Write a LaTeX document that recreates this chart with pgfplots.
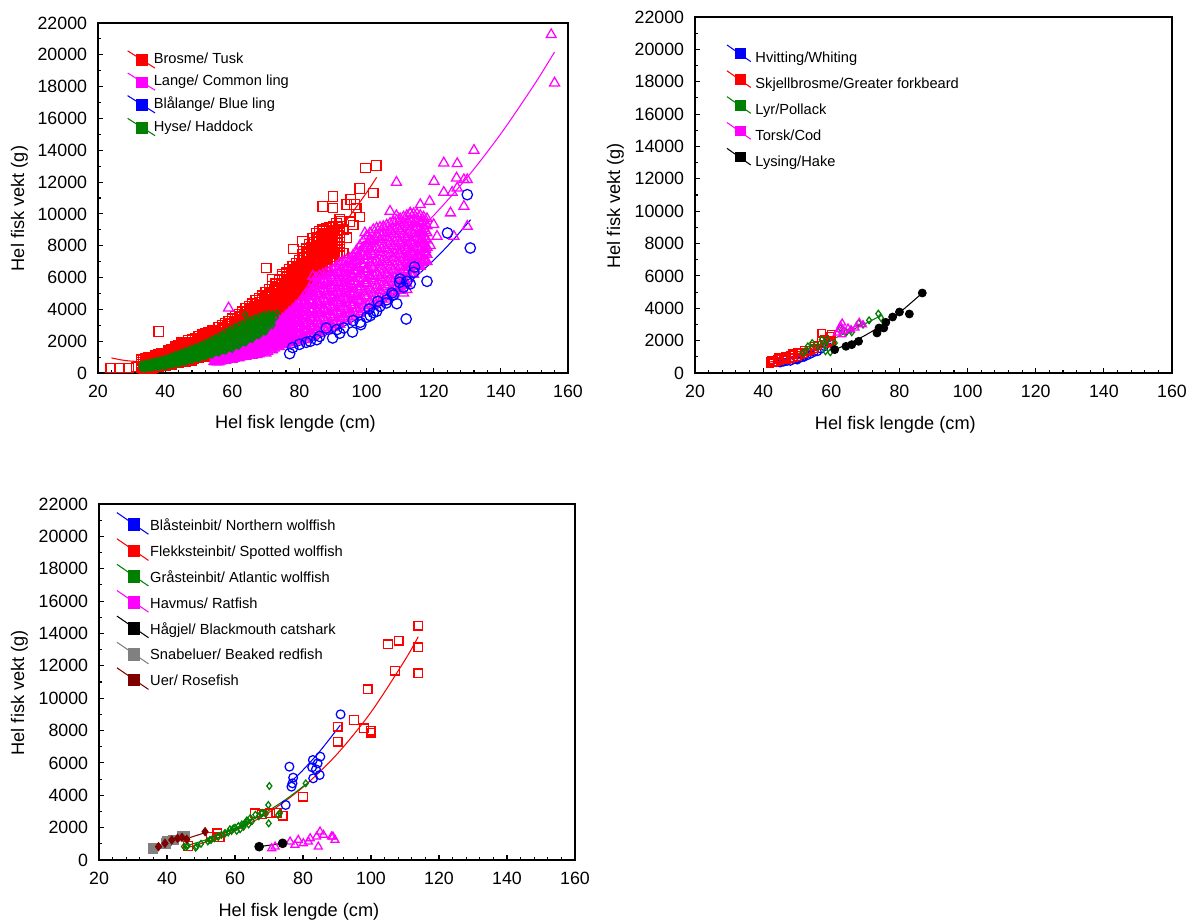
\documentclass[border=0pt]{standalone}
\usepackage{pgfplots}
\usepackage{pgfplotstable}
\pgfplotsset{compat=1.18}
\usepackage{fontspec}
\setmainfont{Liberation Sans}
\definecolor{dkgreen}{RGB}{0,128,0}
\definecolor{dkred}{RGB}{128,0,0}
\definecolor{midgray}{RGB}{128,128,128}
\definecolor{mag}{RGB}{255,0,255}
\definecolor{pblue}{RGB}{0,0,255}
\definecolor{pred}{RGB}{255,0,0}

% dense clouds of panel 1: one row per length, several weights per row
\pgfplotstableread{
L a b c d e f
33 310 430 550 670 790 850
34 250 380 510 640 770 900
35 320 460 600 740 880 950
36 300 440 580 720 860 1000
37 430 580 730 880 1030 1100
38 400 550 700 850 1000 1150
39 480 640 800 960 1120 1200
40 450 610 770 930 1090 1250
41 590 770 950 1130 1310 1400
42 550 740 930 1120 1310 1500
43 710 920 1130 1340 1550 1650
44 650 870 1090 1310 1530 1750
45 780 1030 1280 1530 1780 1900
46 700 950 1200 1450 1700 1950
47 880 1140 1400 1660 1920 2050
48 800 1060 1320 1580 1840 2100
49 990 1260 1530 1800 2070 2200
50 950 1220 1490 1760 2030 2300
51 1140 1420 1700 1980 2260 2400
52 1050 1340 1630 1920 2210 2500
53 1250 1540 1830 2120 2410 2550
54 1200 1490 1780 2070 2360 2650
55 1400 1690 1980 2270 2560 2700
56 1350 1650 1950 2250 2550 2850
57 1560 1880 2200 2520 2840 3000
58 1500 1820 2140 2460 2780 3100
59 1770 2100 2430 2760 3090 3250
60 1700 2040 2380 2720 3060 3400
61 1980 2330 2680 3030 3380 3550
62 1950 2300 2650 3000 3350 3700
63 2230 2590 2950 3310 3670 3850
64 2200 2570 2940 3310 3680 4050
65 2490 2870 3250 3630 4010 4200
66 2400 2790 3180 3570 3960 4350
67 2660 3080 3500 3920 4340 4550
68 2550 2980 3410 3840 4270 4700
69 2830 3280 3730 4180 4630 4850
70 2700 3170 3640 4110 4580 5050
71 3090 3570 4050 4530 5010 5250
72 3050 3530 4010 4490 4970 5450
73 3440 3920 4400 4880 5360 5600
74 3400 3890 4380 4870 5360 5850
75 3810 4320 4830 5340 5850 6100
76 3750 4260 4770 5280 5790 6300
77 4210 4720 5230 5740 6250 6500
78 4200 4700 5200 5700 6200 6700
79 4650 5150 5650 6150 6650 6900
80 4600 5100 5600 6100 6600 7100
81 5160 5670 6180 6690 7200 7450
82 5150 5680 6210 6740 7270 7800
83 5720 6250 6780 7310 7840 8100
84 5750 6290 6830 7370 7910 8450
85 6370 6910 7450 7990 8530 8800
86 6300 6820 7340 7860 8380 8900
87 6750 7250 7750 8250 8750 9000
88 6700 7180 7660 8140 8620 9100
89 7130 7580 8030 8480 8930 9150
90 7100 7520 7940 8360 8780 9200
91 7510 7930 8350 8770 9190 9400
92 7550 7970 8390 8810 9230 9650
}\tusk

\pgfplotstableread{
L a b c d e
33.5 280 405 530 655 780
34.5 285 420 555 690 825
35.5 310 450 590 730 870
36.5 360 505 650 795 940
37.5 410 560 710 860 1010
38.5 440 595 750 900 1055
39.5 465 625 785 945 1105
40.5 515 685 855 1025 1195
41.5 570 755 940 1125 1310
42.5 625 825 1025 1225 1425
43.5 680 895 1110 1325 1540
44.5 710 945 1180 1415 1650
45.5 740 990 1240 1490 1740
46.5 790 1045 1300 1555 1810
47.5 840 1100 1360 1620 1880
48.5 890 1155 1420 1685 1950
49.5 970 1240 1510 1780 2050
50.5 1045 1320 1595 1870 2145
51.5 1095 1380 1665 1950 2235
52.5 1150 1440 1730 2020 2310
53.5 1225 1515 1805 2095 2385
54.5 1300 1590 1880 2170 2460
55.5 1375 1670 1965 2260 2555
56.5 1450 1760 2070 2380 2690
57.5 1530 1850 2170 2490 2810
58.5 1630 1955 2280 2605 2930
59.5 1735 2070 2405 2740 3075
60.5 1835 2180 2525 2870 3215
61.5 1960 2310 2660 3010 3360
62.5 2090 2445 2800 3155 3510
63.5 2215 2580 2945 3310 3675
64.5 2345 2720 3095 3470 3845
65.5 2445 2830 3215 3600 3985
66.5 2525 2930 3335 3740 4145
67.5 2605 3030 3455 3880 4305
68.5 2685 3125 3565 4005 4445
69.5 2765 3225 3685 4145 4605
70.5 2895 3370 3845 4320 4795
71.5 3070 3550 4030 4510 4990
72.5 3245 3725 4205 4685 5165
73.5 3420 3905 4390 4875 5360
74.5 3600 4100 4600 5100 5600
75.5 3780 4290 4800 5310 5820
76.5 3980 4490 5000 5510 6020
77.5 4200 4705 5210 5715 6220
78.5 4425 4925 5425 5925 6425
79.5 4625 5125 5625 6125 6625
80.5 4875 5380 5885 6390 6895
81.5 5155 5675 6195 6715 7235
82.5 5435 5965 6495 7025 7555
83.5 5735 6270 6805 7340 7875
84.5 6060 6600 7140 7680 8220
85.5 6335 6865 7395 7925 8455
86.5 6530 7040 7550 8060 8570
87.5 6720 7210 7700 8190 8680
88.5 6915 7380 7845 8310 8775
89.5 7110 7545 7980 8415 8850
90.5 7305 7725 8145 8565 8985
91.5 7530 7950 8370 8790 9210
}\tuskhalf

\pgfplotstableread{
L a b c d e f g
55 700 800 900 1000 1100 1200 1250
56 700 800 900 1000 1100 1200 1300
57 800 910 1020 1130 1240 1340 1400
58 800 920 1030 1150 1270 1380 1500
59 920 1050 1180 1320 1450 1580 1650
60 850 1000 1150 1300 1450 1600 1750
61 980 1140 1300 1450 1610 1770 1850
62 950 1120 1280 1450 1620 1780 1950
63 1090 1260 1440 1610 1790 1960 2050
64 1050 1230 1420 1600 1780 1970 2150
65 1150 1360 1570 1780 1990 2200 2300
66 1100 1320 1530 1750 1970 2180 2400
67 1260 1490 1710 1940 2160 2390 2500
68 1200 1430 1670 1900 2130 2370 2600
69 1370 1610 1850 2100 2340 2580 2700
70 1250 1500 1750 2000 2250 2500 2750
71 1480 1740 2000 2250 2510 2770 2900
72 1450 1710 1970 2230 2480 2740 3000
73 1680 1940 2200 2450 2710 2970 3100
74 1650 1920 2180 2450 2720 2980 3250
75 1890 2160 2440 2710 2990 3260 3400
76 1800 2100 2400 2700 3000 3300 3600
77 2010 2340 2660 2990 3310 3640 3800
78 1900 2250 2600 2950 3300 3650 4000
79 2140 2510 2890 3260 3640 4010 4200
80 2000 2400 2800 3200 3600 4000 4400
81 2270 2710 3160 3600 4040 4480 4700
82 2100 2580 3070 3550 4030 4520 5000
83 2460 2980 3490 4010 4530 5040 5300
84 2300 2870 3430 4000 4570 5130 5700
85 2700 3300 3900 4500 5100 5700 6000
86 2500 3100 3700 4300 4900 5500 6100
87 2850 3460 4070 4680 5290 5900 6200
88 2650 3260 3870 4480 5080 5690 6300
89 3050 3660 4270 4880 5490 6100 6400
90 2850 3460 4070 4680 5280 5890 6500
91 3260 3890 4510 5140 5760 6390 6700
92 3050 3690 4330 4980 5620 6260 6900
93 3530 4180 4830 5480 6130 6780 7000
94 3300 3970 4630 5300 5970 6630 7100
95 3740 4430 5110 5790 6480 7000 7200
96 3550 4280 5000 5730 6450 7000 7400
97 4040 4810 5590 6360 7000 7500 7700
98 3750 4580 5400 6230 7050 7600 8000
99 4270 5110 5950 6800 7400 7900 8300
100 4000 4830 5670 6500 7330 8000 8600
101 4510 5330 6140 6960 7780 8400 8800
102 4200 5010 5820 6630 7430 8240 9000
103 4700 5500 6300 7100 7900 8700 9100
104 4400 5190 5980 6780 7570 8360 9150
105 4890 5680 6460 7240 8030 8810 9200
106 4650 5430 6200 6980 7750 8530 9300
107 5180 5950 6720 7480 8250 9020 9400
108 4950 5710 6470 7230 7980 8740 9500
109 5480 6230 6980 7730 8480 9230 9600
110 5200 5950 6700 7450 8200 8950 9700
111 5770 6500 7230 7970 8700 9430 9800
112 5600 6320 7030 7750 8470 9180 9900
113 6240 6930 7610 8290 8980 9660 10000
114 6200 6830 7470 8100 8730 9370 10000
115 6790 7380 7960 8540 9130 9710 10000
116 6700 7230 7770 8300 8830 9370 9900
117 7140 7620 8110 8590 9070 9560 9800
118 7000 7450 7900 8350 8800 9250 9700
}\ling

\pgfplotstableread{
L a b c d e f
55.5 700 800 900 1000 1100 1200
56.5 750 855 960 1060 1165 1270
57.5 805 915 1030 1140 1250 1360
58.5 855 980 1105 1230 1355 1480
59.5 885 1030 1170 1310 1450 1595
60.5 915 1070 1220 1380 1530 1685
61.5 965 1130 1290 1450 1610 1775
62.5 1020 1190 1360 1530 1700 1870
63.5 1070 1250 1430 1610 1790 1965
64.5 1100 1295 1490 1690 1885 2080
65.5 1130 1340 1550 1760 1980 2190
66.5 1180 1400 1620 1840 2065 2285
67.5 1230 1460 1690 1920 2150 2380
68.5 1285 1520 1760 2000 2235 2475
69.5 1310 1560 1800 2050 2295 2540
70.5 1365 1620 1870 2130 2380 2635
71.5 1465 1720 1980 2240 2500 2755
72.5 1565 1820 2080 2340 2600 2855
73.5 1665 1930 2190 2450 2710 2975
74.5 1770 2040 2310 2580 2850 3120
75.5 1845 2135 2420 2710 2995 3280
76.5 1905 2215 2530 2840 3150 3465
77.5 1960 2295 2635 2970 3310 3645
78.5 2015 2380 2740 3100 3465 3825
79.5 2070 2460 2845 3235 3620 4010
80.5 2130 2550 2975 3395 3815 4235
81.5 2190 2655 3115 3575 4040 4500
82.5 2275 2775 3275 3775 4275 4775
83.5 2385 2925 3470 4010 4550 5095
84.5 2495 3080 3660 4245 4830 5410
85.5 2600 3200 3800 4400 5000 5600
86.5 2675 3280 3885 4490 5095 5700
87.5 2750 3360 3970 4580 5190 5800
88.5 2850 3460 4070 4680 5285 5895
89.5 2950 3560 4170 4780 5385 5995
90.5 3055 3670 4290 4905 5520 6140
91.5 3160 3790 4425 5060 5690 6325
92.5 3285 3920 4560 5200 5835 6470
93.5 3410 4040 4675 5310 5940 6575
94.5 3510 4140 4775 5410 6040 6675
95.5 3635 4270 4910 5550 6185 6820
96.5 3765 4420 5080 5740 6400 7055
97.5 3875 4565 5255 5950 6640 7335
98.5 3980 4705 5430 6155 6880 7605
99.5 4115 4870 5620 6375 7130 7885
100.5 4245 5020 5795 6570 7345 8120
101.5 4350 5140 5930 6725 7515 8310
102.5 4450 5250 6050 6850 7650 8450
103.5 4550 5345 6140 6940 7735 8530
104.5 4645 5435 6220 7010 7795 8585
105.5 4770 5550 6330 7105 7885 8665
106.5 4920 5690 6460 7230 8000 8770
107.5 5065 5830 6590 7350 8115 8875
108.5 5215 5970 6720 7475 8230 8985
109.5 5340 6090 6840 7590 8340 9090
110.5 5485 6230 6970 7710 8455 9195
111.5 5680 6405 7130 7860 8585 9310
112.5 5925 6625 7325 8025 8725 9425
113.5 6215 6875 7530 8190 8845 9505
114.5 6500 7110 7720 8325 8935 9540
115.5 6740 7300 7855 8415 8975 9530
116.5 6925 7435 7945 8450 8960 9465
117.5 7065 7530 8000 8465 8935 9400
}\linghalf

\pgfplotstableread{
L a b c d e
33 290 360 440 510 550
34 270 350 440 520 600
35 340 430 510 600 640
36 320 410 500 600 690
37 400 500 600 690 740
38 370 480 580 690 790
39 460 570 680 790 850
40 420 540 660 780 900
41 530 660 790 920 980
42 500 640 780 920 1060
43 620 770 920 1070 1140
44 580 740 900 1060 1220
45 710 880 1050 1220 1300
46 680 860 1030 1210 1380
47 830 1010 1190 1370 1460
48 800 990 1170 1360 1540
49 950 1140 1330 1520 1620
50 900 1100 1300 1500 1700
51 1070 1280 1490 1700 1800
52 1020 1240 1460 1680 1900
53 1200 1430 1660 1890 2000
54 1140 1380 1620 1860 2100
55 1330 1580 1830 2080 2200
56 1260 1530 1790 2060 2320
57 1460 1740 2020 2300 2440
58 1380 1680 1970 2270 2560
59 1600 1910 2220 2530 2680
60 1500 1830 2150 2480 2800
61 1760 2090 2410 2740 2900
62 1700 2030 2350 2680 3000
63 1960 2290 2610 2940 3100
64 1900 2230 2550 2880 3200
65 2160 2490 2810 3140 3300
66 2120 2440 2750 3070 3380
67 2390 2700 3000 3310 3460
68 2360 2660 2950 3250 3540
69 2620 2910 3190 3480 3620
70 2600 2880 3150 3430 3700
71 2900 3100 3300 3500 3700
72 3000 3200 3400 3550 3700
}\haddock

\pgfplotstableread{
L a b c d
33.5 280 360 435 515
34.5 305 390 475 555
35.5 330 420 510 600
36.5 360 455 550 645
37.5 385 485 585 690
38.5 410 520 630 740
39.5 440 555 670 790
40.5 470 595 720 845
41.5 515 650 785 920
42.5 555 700 845 990
43.5 600 755 910 1065
44.5 640 805 970 1135
45.5 695 865 1040 1210
46.5 755 930 1110 1290
47.5 815 1000 1180 1360
48.5 870 1060 1250 1440
49.5 925 1120 1315 1510
50.5 980 1185 1390 1595
51.5 1045 1260 1475 1690
52.5 1105 1330 1555 1780
53.5 1170 1405 1640 1875
54.5 1230 1475 1720 1965
55.5 1295 1550 1810 2065
56.5 1360 1630 1900 2175
57.5 1420 1710 1995 2285
58.5 1485 1790 2090 2390
59.5 1550 1865 2185 2500
60.5 1630 1955 2280 2605
61.5 1730 2055 2380 2705
62.5 1830 2155 2480 2805
63.5 1930 2255 2580 2905
64.5 2030 2355 2680 3005
65.5 2140 2460 2780 3100
66.5 2255 2565 2875 3185
67.5 2375 2675 2975 3275
68.5 2490 2780 3070 3360
69.5 2610 2890 3170 3450
}\haddockhalf

\pgfplotsset{
  fish/.style={
    scale only axis, xmin=20, xmax=160, ymin=0, ymax=22000,
    xtick={20,40,...,160}, ytick={0,2000,...,22000},
    minor x tick num=4, minor y tick num=1,
    tick align=inside, xtick pos=left, ytick pos=left,
    major tick length=0.09cm, minor tick length=0.05cm,
    every tick/.style={black, line width=0.5pt},
    axis line style={line width=0.6pt},
    scaled y ticks=false,
    /pgf/number format/1000 sep={},
    /pgf/number format/assume math mode=true,
    tick label style={font=\fontsize{8.5}{10}\selectfont},
    xticklabel style={yshift=-0.08cm},
    yticklabel style={xshift=-0.06cm},
    xlabel={Hel fisk lengde (cm)}, ylabel={Hel fisk vekt (g)},
    label style={font=\fontsize{8.7}{10}\selectfont},
    xlabel style={at={(axis description cs:0.42,-0.146)}, anchor=center},
    ylabel style={at={(axis description cs:-0.167,0.47)}, anchor=center},
    legend cell align=left,
    legend style={draw=none, fill=none, inner sep=0pt, anchor=north west,
      row sep=0pt, font=\fontsize{7}{8}\selectfont},
  },
  sq/.style={only marks, mark=square, mark size=#1, mark options={line width=0.6pt}, forget plot},
  tri/.style={only marks, mark=triangle, mark size=#1, mark options={line width=0.6pt}, forget plot},
  circ/.style={only marks, mark=o, mark size=#1, mark options={line width=0.6pt}, forget plot},
  dia/.style={only marks, mark=diamond, mark size=#1, mark options={line width=0.6pt}, forget plot},
  fit/.style={no marks, smooth, line width=0.5pt, forget plot},
}

\begin{document}
\begin{tikzpicture}
\useasboundingbox (0,0) rectangle (20cm,15.479cm);

% ---------------- panel 1 ----------------
\begin{axis}[fish, at={(1.647cm,9.210cm)}, anchor=south west,
  width=7.899cm, height=5.882cm,
  legend style={at={(axis cs:28.55,20410)},
    /tikz/every odd column/.append style={column sep=-0.1cm}},
  legend image code/.code={
    \draw[#1, line width=0.5pt] (0cm,0.15cm) -- (0.46cm,-0.14cm);
    \fill[#1] (0.155cm,-0.098cm) rectangle (0.335cm,0.082cm);}]

\foreach \c in {a,b,c,d,e,f}{
  \addplot[pred, sq=2.3pt] table[x=L, y=\c] {\tusk};
}
\foreach \c in {a,b,c,d,e}{
  \addplot[pred, sq=2.3pt] table[x=L, y=\c] {\tuskhalf};
}
\addplot[pred, sq=2.3pt] coordinates {
(23.8,314) (26.4,314) (29.2,314) (31.5,380) (38.1,2619) (70.1,6600) (72,5866)
(74.9,6181) (78.2,7794) (80.9,8276) (87,5657) (87,10476) (90,10370)
(90,11104) (91.9,9009) (92.5,9533) (93,7542) (93,9000) (94,8500) (94.1,10580)
(95,9500) (95.3,10895) (96,9300) (96.4,10580) (96.9,10370) (98,9805) (98,11586)
(99.7,12885) (102,11314) (102.9,13053)
};

\foreach \c in {a,b,c,d,e,f,g}{
  \addplot[mag, tri=2.75pt] table[x=L, y=\c] {\ling};
}
\foreach \c in {a,b,c,d,e,f}{
  \addplot[mag, tri=2.75pt] table[x=L, y=\c] {\linghalf};
}
\addplot[mag, tri=2.75pt] coordinates {
(54.6,733) (58.9,4085) (67.3,1152) (84,5238) (84,6076) (99.5,8800) (100.8,8380)
(105,9156) (107,10161) (108.9,9889) (108.9,11984) (111,5028) (112,5238) (113,10057)
(116,10580) (116.5,7123) (117.6,7752) (118.8,10790) (119,8000) (120,9323)
(120.1,12047) (121,8590) (123,11356) (123,13199) (125,10057) (125.5,11356)
(126,8590) (126.8,12256) (127,11628) (127,13157) (129,10476) (129,12151) (130,9219)
(130,12151) (132,13995) (155,21265) (156,18227)
};

\addplot[pblue, circ=2.5pt] coordinates {
(77.1,1215) (78,1600) (80,1800) (82,1927) (83.2,1990) (85.2,2095) (86,2300)
(88,2829) (89.9,2200) (91.1,2724) (92,2500) (93.2,2829) (95.8,2577) (96,3300)
(98.1,3185) (98.3,3038) (100,3500) (100.8,4023) (101.1,3604) (102,3800) (103,3876)
(103.4,4505) (104,4200) (105.9,4400) (106,4600) (107.6,5028) (108,4900) (109,4358)
(109.8,5700) (110,5908) (111,5400) (111.8,3394) (112,5762) (113,5600) (114,6327)
(114.3,6663) (118,5762) (124.1,8800) (130,11209) (130.9,7857)
};

\foreach \c in {a,b,c,d,e}{
  \addplot[dkgreen, dia=1.5pt] table[x=L, y=\c] {\haddock};
}
\foreach \c in {a,b,c,d}{
  \addplot[dkgreen, dia=1.5pt] table[x=L, y=\c] {\haddockhalf};
}
\addplot[dkgreen, dia=1.5pt] coordinates {(63.9,3666) (73,3500) (73.4,3771)};

\addplot[pred, fit] coordinates {(24,950) (27,820) (31,730) (35,770) (40,910) (45,1170)
 (50,1540) (55,2020) (60,2610) (65,3310) (70,4120) (75,5050) (80,6090) (85,7240)
 (90,8500) (95,9870) (100,11340) (103,12300)};
\addplot[mag, fit] coordinates {(54,1145) (60,1513) (70,2298) (80,3302) (90,4544)
 (100,6043) (110,7824) (120,9905) (130,12299) (140,15039) (150,18140) (156,20178)};
\addplot[pblue, fit] coordinates {(77,1508) (85,2129) (90,2599) (95,3138) (100,3755)
 (105,4452) (110,5236) (115,6117) (120,7094) (125,8180) (131,9637)};
\addplot[dkgreen, fit] coordinates {(33,330) (40,584) (45,832) (50,1141) (55,1519)
 (60,1972) (65,2507) (70,3131) (74,3700)};

\addlegendimage{pred}\addlegendentry{Brosme/ Tusk}
\addlegendimage{mag}\addlegendentry{Lange/ Common ling}
\addlegendimage{pblue}\addlegendentry{Blålange/ Blue ling}
\addlegendimage{dkgreen}\addlegendentry{Hyse/ Haddock}
\end{axis}

% ---------------- panel 2 ----------------
\begin{axis}[fish, at={(11.681cm,9.210cm)}, anchor=south west,
  width=8.017cm, height=5.983cm,
  legend style={at={(axis cs:29.1,20331)}},
  legend image code/.code={
    \draw[#1, line width=0.5pt] (0cm,0.24cm) -- (0.40cm,-0.04cm);
    \fill[#1] (0.144cm,0.017cm) rectangle (0.304cm,0.177cm);}]

\addplot[pblue, circ=1.7pt] coordinates {
(44,620) (45,600) (46,650) (47,700) (48,700) (49,800) (50,780) (50,850) (51,900)
(52,950) (52,1000) (53,1050) (54,1150) (55,1250) (56,1300) (57,1450) (58,1600) (60,1800)
};
\addplot[pred, sq=1.75pt] coordinates {
(42,600) (42,720) (42.5,800) (43,650) (43,800) (44,700) (44,850) (44.5,950) (45,750)
(45,900) (46,800) (46,950) (46.5,1050) (47,850) (47,1000) (48,900) (48,1100)
(48.5,1200) (49,950) (49,1150) (50,1000) (50,1300) (51,1100) (51,1250) (52,1200)
(52,1400) (53,1300) (54,1400) (55,1500) (55,1650) (56,1700) (57,2000) (57.2,2472)
(58,1800) (58,2100) (59.5,2000) (59.6,2266) (60,1900) (60,2400)
};
\addplot[dkgreen, dia=1.6pt] coordinates {
(51.7,1236) (52.5,1400) (53.1,1648) (54.4,1854) (56.1,1648) (57.2,2060) (58.1,1751)
(58.3,1339) (58.8,2060) (59.7,1277) (61,1854) (62.7,2781) (64.4,2513) (65.8,2678)
(66,2513) (68,3090) (69.3,2987) (71.1,3254) (73.8,3666) (74.6,3399)
};
\addplot[mag, tri=1.9pt] coordinates {
(61.6,2472) (62.3,2678) (62.7,2925) (63.2,3090) (63.2,2369) (63.8,2575) (64.9,2781)
(65.8,2678) (67.1,2781) (68.2,3131) (69.3,2987)
};
\addplot[black, only marks, mark=*, mark size=1.9pt, forget plot] coordinates {
(61,1442) (64.3,1648) (66,1751) (68,1957) (73.4,2472) (74,2781) (75.4,2781) (76,3131)
(78,3460) (80,3769) (82.9,3646) (86.7,4943)
};

\addplot[pblue, fit] coordinates {(43,650) (46,803) (50,1044) (54,1329) (57,1575) (60,1850)};
\addplot[pred, fit] coordinates {(42,680) (46,860) (50,1120) (54,1420) (58,1800) (60,2000)};
\addplot[dkgreen, fit] coordinates {(49,1100) (55,1600) (60,2050) (65,2550) (70,3050) (75,3600)};
\addplot[mag, fit] coordinates {(62,2500) (66,2780) (70,3100)};
\addplot[black, fit] coordinates {(61,1442) (65,1801) (70,2334) (75,2972) (80,3726) (86.7,4943)};

\addlegendimage{pblue}\addlegendentry{Hvitting/Whiting}
\addlegendimage{pred}\addlegendentry{Skjellbrosme/Greater forkbeard}
\addlegendimage{dkgreen}\addlegendentry{Lyr/Pollack}
\addlegendimage{mag}\addlegendentry{Torsk/Cod}
\addlegendimage{black}\addlegendentry{Lysing/Hake}
\end{axis}

% ---------------- panel 3 ----------------
\begin{axis}[fish, at={(1.664cm,1.025cm)}, anchor=south west,
  width=8.0cm, height=5.983cm,
  legend style={at={(axis cs:25.0,21524)},
    /tikz/every odd column/.append style={column sep=-0.05cm}},
  legend image code/.code={
    \draw[#1, line width=0.5pt] (0cm,0.235cm) -- (0.53cm,-0.128cm);
    \fill[#1] (0.186cm,-0.068cm) rectangle (0.386cm,0.132cm);}]

\addplot[pblue, circ=2.1pt] coordinates {
(74.9,3399) (76,5768) (76.6,4532) (76.9,4738) (77.1,5088) (82.7,5727) (82.9,6180)
(83,5047) (83.8,5603) (84.3,5974) (84.9,5253) (85.1,6386) (91.05,9002)
};
\addplot[pred, sq=2.1pt] coordinates {
(46.2,865) (52.8,1442) (54.8,1648) (55.5,1400) (65.9,2884) (67.8,2822) (70.3,2884)
(72.2,2925) (74,2740) (80,3914) (90.2,7313) (90.2,8240) (95,8652) (97.9,8137)
(99,10547) (99.9,7993) (100.1,7869) (105,13328) (107,11700) (108.1,13555)
(113.9,11536) (113.9,13142) (113.9,14481)
};
\addplot[dkgreen, dia=1.6pt] coordinates {
(45,830) (45.8,824) (46,900) (48.4,762) (48.7,824) (50,1000) (52,1150) (52.6,1236)
(53,1250) (54,1350) (55,1450) (55.1,1442) (56,1550) (57,1650) (57.1,1648) (58,1700)
(58.5,1900) (59,1800) (59.5,1950) (60,2000) (60.5,1800) (61,2100) (61.5,1900)
(62,2200) (62.4,2163) (62.5,2050) (63,2300) (63.4,2367) (63.5,2450) (64,2200)
(64.5,2600) (65,2400) (66,2800) (67,2700) (67.8,2886) (68,2900) (69,2850)
(69.8,3399) (69.9,2266) (70.1,4573) (72.7,2781) (73.2,2904) (80.8,4738)
};
\addplot[mag, tri=2.2pt] coordinates {
(70.8,721) (71.8,824) (76.2,1133) (77.6,927) (78.6,1236) (80.1,1030) (81.6,1133)
(82.1,1339) (84,1442) (84.5,824) (85,1751) (86,1545) (88.4,1442) (88.8,1442)
(89.4,1236)
};
\addplot[black, only marks, mark=*, mark size=2.1pt, forget plot] coordinates {
(67.1,824) (74,1030)
};
\addplot[midgray, only marks, mark=square*, mark size=2.2pt, forget plot] coordinates {
(35.8,721) (39.6,1030) (39.9,1195) (41.9,1258) (44.5,1483) (45.1,1483)
};
\addplot[dkred, only marks, mark=diamond*, mark size=2pt, forget plot] coordinates {
(37.5,824) (39.4,1030) (41.4,1236) (43.1,1339) (44.4,1400) (45.8,1277) (51.2,1751)
};

\addplot[pblue, fit] coordinates {(75.5,4635) (80,5562) (85,6733) (91,8343)};
\addplot[pred, fit] coordinates {(45.7,762) (50,1013) (60,1807) (70,2947) (80,4502)
 (90,6541) (100,9136) (110,12362) (113.9,13802)};
\addplot[dkgreen, fit] coordinates {(46,900) (50,1148) (55,1517) (60,1955) (65,2470)
 (70,3067) (75,3752) (81,4700)};
\addplot[black, fit] coordinates {(67.1,824) (74,1030)};
\addplot[midgray, fit] coordinates {(35.8,760) (40,1100) (45,1450)};
\addplot[dkred, fit] coordinates {(37,740) (44,1200) (51.2,1690)};

\addlegendimage{pblue}\addlegendentry{Blåsteinbit/ Northern wolffish}
\addlegendimage{pred}\addlegendentry{Flekksteinbit/ Spotted wolffish}
\addlegendimage{dkgreen}\addlegendentry{Gråsteinbit/ Atlantic wolffish}
\addlegendimage{mag}\addlegendentry{Havmus/ Ratfish}
\addlegendimage{black}\addlegendentry{Hågjel/ Blackmouth catshark}
\addlegendimage{midgray}\addlegendentry{Snabeluer/ Beaked redfish}
\addlegendimage{dkred}\addlegendentry{Uer/ Rosefish}
\end{axis}
\end{tikzpicture}
\end{document}
